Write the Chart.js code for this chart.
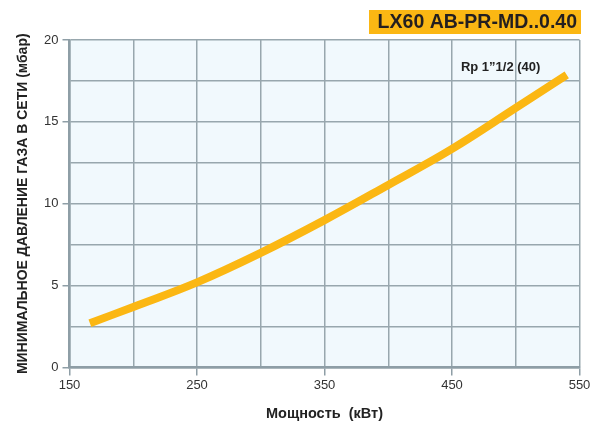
<!DOCTYPE html>
<html>
<head>
<meta charset="utf-8">
<script src="https://cdn.jsdelivr.net/npm/chart.js@4/dist/chart.umd.min.js"></script>
<style>
html,body{margin:0;padding:0;background:#fff;}
#wrap{width:593px;height:423px;}
</style>
</head>
<body>
<div id="wrap"><canvas id="c" width="593" height="423"></canvas></div>
<script>
const powerKW = [166, 200, 250, 300, 350, 400, 450, 500, 540];
const pressureMbar = [2.7, 3.7, 5.2, 7.0, 9.0, 11.15, 13.35, 15.85, 17.87];
const xTickLabels = [150, 250, 350, 450, 550];
const yTickLabels = [0, 5, 10, 15, 20];
const chartTitle = 'LX60 AB-PR-MD..0.40';
const seriesLabel = 'Rp 1\u201D1/2 (40)';
const xTitle = 'Мощность  (кВт)';
const yTitle = 'МИНИМАЛЬНОЕ ДАВЛЕНИЕ ГАЗА В СЕТИ (мбар)';

const gridColor = '#98a7ae';
const axisColor = '#8e9ea6';
const FONT = '"Liberation Sans", Arial, Helvetica, sans-serif';

const bgPlugin = {
  id: 'bg',
  beforeDraw(chart) {
    const {ctx, chartArea: a} = chart;
    ctx.save();
    ctx.fillStyle = '#f1f9fd';
    ctx.fillRect(a.left, a.top, a.right - a.left, a.bottom - a.top);
    ctx.restore();
  },
  afterDraw(chart) {
    const {ctx} = chart;
    ctx.save();
    ctx.fillStyle = '#fbb713';
    ctx.fillRect(369, 10, 212, 24);
    ctx.fillStyle = '#231f20';
    ctx.font = 'bold 19.5px ' + FONT;
    ctx.textAlign = 'right';
    ctx.textBaseline = 'middle';
    ctx.fillText(chartTitle, 577, 23);
    const xs = chart.scales.x, ys = chart.scales.y;
    ctx.font = 'bold 13px ' + FONT;
    ctx.fillStyle = '#222';
    ctx.textAlign = 'left';
    ctx.textBaseline = 'middle';
    ctx.fillText(seriesLabel, xs.getPixelForValue(457), ys.getPixelForValue(18.35));
    ctx.restore();
  }
};

new Chart(document.getElementById('c'), {
  type: 'line',
  data: {
    datasets: [{
      label: seriesLabel,
      data: powerKW.map((x, i) => ({x: x, y: pressureMbar[i]})),
      borderColor: '#fbb713',
      borderWidth: 8,
      borderCapStyle: 'butt',
      pointRadius: 0,
      fill: false,
      tension: 0.4
    }]
  },
  options: {
    responsive: false,
    animation: false,
    layout: {padding: {top: 40, right: 13.5, left: 0, bottom: 0}},
    plugins: {legend: {display: false}, tooltip: {enabled: false}},
    scales: {
      x: {
        type: 'linear', min: 150, max: 550,
        afterFit(s) { s.height = 55.5; },
        ticks: {
          stepSize: 50, autoSkip: false, maxRotation: 0, padding: 2,
          color: '#333', font: {family: FONT, size: 13},
          callback: v => xTickLabels.includes(v) ? String(v) : ''
        },
        grid: {
          color: gridColor, lineWidth: 1.5, tickLength: 8,
          tickColor: c => (c.tick && xTickLabels.includes(c.tick.value)) ? axisColor : 'rgba(0,0,0,0)',
          tickWidth: 1.5
        },
        border: {color: axisColor, width: 2.5},
        title: {display: true, text: xTitle, color: '#222',
          font: {family: FONT, size: 14.5, weight: 'bold'}, padding: {top: 4, bottom: 0}}
      },
      y: {
        type: 'linear', min: 0, max: 20,
        afterFit(s) { s.width = 69.5; },
        ticks: {
          stepSize: 2.5, autoSkip: false, padding: 4,
          color: '#333', font: {family: FONT, size: 13},
          callback: v => yTickLabels.includes(v) ? String(v) : ''
        },
        grid: {
          color: gridColor, lineWidth: 1.5, tickLength: 7,
          tickColor: c => (c.tick && yTickLabels.includes(c.tick.value)) ? axisColor : 'rgba(0,0,0,0)',
          tickWidth: 1.5
        },
        border: {color: axisColor, width: 2.5},
        title: {display: true, text: yTitle, color: '#222',
          font: {family: FONT, size: 14, weight: 'bold'}, padding: {top: 15, bottom: 0}}
      }
    }
  },
  plugins: [bgPlugin]
});
</script>
</body>
</html>
